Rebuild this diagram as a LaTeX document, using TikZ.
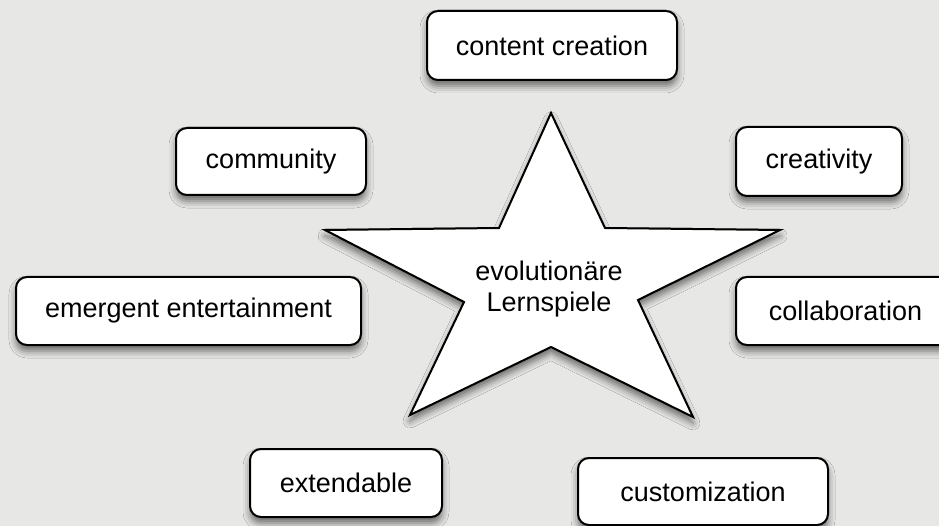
\documentclass[tikz,border=0pt]{standalone}
\usepackage{fontspec}
\setmainfont{Liberation Sans}
\usetikzlibrary{shadows.blur}
\definecolor{bgcol}{HTML}{E7E7E5}
\tikzset{
  topic/.style={draw=black, line width=2pt, fill=white, rounded corners=11pt,
    inner sep=0pt, font=\fontsize{27}{31}\selectfont,
    blur shadow={shadow xshift=0pt, shadow yshift=-6pt, shadow blur radius=7pt, shadow opacity=55}},
  starshape/.style={draw=black, line width=2pt, fill=white, line join=miter,
    blur shadow={shadow xshift=0pt, shadow yshift=-6pt, shadow blur radius=7pt, shadow opacity=55}},
  startext/.style={align=center, inner sep=0pt, font=\fontsize{27}{31}\selectfont}
}
\begin{document}
\begin{tikzpicture}[x=1pt,y=-1pt]
\useasboundingbox (0,0) rectangle (939,526);
\clip (0,0) rectangle (939,526);
\fill[bgcol] (0,0) rectangle (939,526);
% star
\draw[starshape] (551,113) -- (605,228) -- (780,230) -- (638,300) -- (693,417)
  -- (551,347) -- (410,415) -- (464,302) -- (325,230) -- (499,228) -- cycle;
\node[startext] (center) at (549,289) {evolutionäre\\Lernspiele};
% topics
\node[topic, minimum width=250pt, minimum height=69pt] (content) at (552,45.5) {content creation};
\node[topic, minimum width=190pt, minimum height=67pt] (community) at (271,161.5) {community};
\node[topic, minimum width=166pt, minimum height=69pt] (creativity) at (819,161.5) {creativity};
\node[topic, minimum width=345pt, minimum height=68pt] (emergent) at (188.5,311) {emergent entertainment};
\node[topic, minimum width=219pt, minimum height=68pt] (collab) at (845.5,311) {collaboration};
\node[topic, minimum width=192pt, minimum height=68pt] (extend) at (346,483) {extendable};
\node[topic, minimum width=250pt, minimum height=67pt] (custom) at (703,491.5) {customization};
\end{tikzpicture}
\end{document}
